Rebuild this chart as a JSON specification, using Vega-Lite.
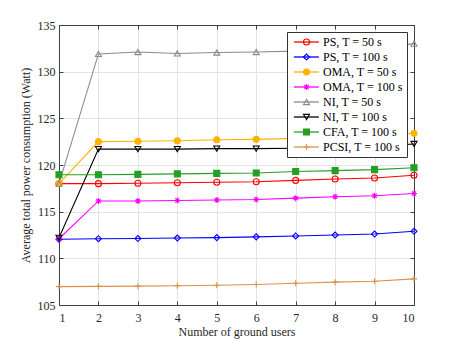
{
  "$schema": "https://vega.github.io/schema/vega-lite/v6.json",
  "width": 355,
  "height": 280,
  "autosize": {"type": "none"},
  "padding": {"left": 59, "top": 25, "right": 43, "bottom": 38},
  "background": "white",
  "config": {
    "font": "Liberation Serif",
    "view": {"stroke": null},
    "axis": {
      "labelFont": "Liberation Serif",
      "titleFont": "Liberation Serif",
      "labelFontSize": 12,
      "titleFontSize": 12,
      "titleFontWeight": "normal",
      "labelColor": "#262626",
      "titleColor": "#262626",
      "domainColor": "#404040",
      "tickColor": "#404040",
      "gridColor": "#e3e3e3",
      "gridOpacity": 1
    },
    "legend": {"labelFont": "Liberation Serif", "labelFontSize": 12, "labelColor": "#000000"}
  },
  "data": {
    "values": [
      {"x": 1, "series": "PS, T = 50 s", "value": 118.0},
      {"x": 2, "series": "PS, T = 50 s", "value": 118.0},
      {"x": 3, "series": "PS, T = 50 s", "value": 118.05},
      {"x": 4, "series": "PS, T = 50 s", "value": 118.1},
      {"x": 5, "series": "PS, T = 50 s", "value": 118.15},
      {"x": 6, "series": "PS, T = 50 s", "value": 118.2},
      {"x": 7, "series": "PS, T = 50 s", "value": 118.35},
      {"x": 8, "series": "PS, T = 50 s", "value": 118.5},
      {"x": 9, "series": "PS, T = 50 s", "value": 118.6},
      {"x": 10, "series": "PS, T = 50 s", "value": 118.9},
      {"x": 1, "series": "PS, T = 100 s", "value": 112.05},
      {"x": 2, "series": "PS, T = 100 s", "value": 112.1},
      {"x": 3, "series": "PS, T = 100 s", "value": 112.12},
      {"x": 4, "series": "PS, T = 100 s", "value": 112.18},
      {"x": 5, "series": "PS, T = 100 s", "value": 112.22},
      {"x": 6, "series": "PS, T = 100 s", "value": 112.3},
      {"x": 7, "series": "PS, T = 100 s", "value": 112.4},
      {"x": 8, "series": "PS, T = 100 s", "value": 112.5},
      {"x": 9, "series": "PS, T = 100 s", "value": 112.6},
      {"x": 10, "series": "PS, T = 100 s", "value": 112.9},
      {"x": 1, "series": "OMA, T = 50 s", "value": 118.0},
      {"x": 2, "series": "OMA, T = 50 s", "value": 122.5},
      {"x": 3, "series": "OMA, T = 50 s", "value": 122.55},
      {"x": 4, "series": "OMA, T = 50 s", "value": 122.6},
      {"x": 5, "series": "OMA, T = 50 s", "value": 122.7},
      {"x": 6, "series": "OMA, T = 50 s", "value": 122.75},
      {"x": 7, "series": "OMA, T = 50 s", "value": 122.85},
      {"x": 8, "series": "OMA, T = 50 s", "value": 123.0},
      {"x": 9, "series": "OMA, T = 50 s", "value": 123.2},
      {"x": 10, "series": "OMA, T = 50 s", "value": 123.4},
      {"x": 1, "series": "OMA, T = 100 s", "value": 112.1},
      {"x": 2, "series": "OMA, T = 100 s", "value": 116.15},
      {"x": 3, "series": "OMA, T = 100 s", "value": 116.15},
      {"x": 4, "series": "OMA, T = 100 s", "value": 116.2},
      {"x": 5, "series": "OMA, T = 100 s", "value": 116.25},
      {"x": 6, "series": "OMA, T = 100 s", "value": 116.3},
      {"x": 7, "series": "OMA, T = 100 s", "value": 116.45},
      {"x": 8, "series": "OMA, T = 100 s", "value": 116.6},
      {"x": 9, "series": "OMA, T = 100 s", "value": 116.7},
      {"x": 10, "series": "OMA, T = 100 s", "value": 116.95},
      {"x": 1, "series": "NI, T = 50 s", "value": 118.0},
      {"x": 2, "series": "NI, T = 50 s", "value": 131.9},
      {"x": 3, "series": "NI, T = 50 s", "value": 132.1},
      {"x": 4, "series": "NI, T = 50 s", "value": 131.95},
      {"x": 5, "series": "NI, T = 50 s", "value": 132.05},
      {"x": 6, "series": "NI, T = 50 s", "value": 132.1},
      {"x": 7, "series": "NI, T = 50 s", "value": 132.2},
      {"x": 8, "series": "NI, T = 50 s", "value": 132.3},
      {"x": 9, "series": "NI, T = 50 s", "value": 132.5},
      {"x": 10, "series": "NI, T = 50 s", "value": 133.0},
      {"x": 1, "series": "NI, T = 100 s", "value": 112.2},
      {"x": 2, "series": "NI, T = 100 s", "value": 121.7},
      {"x": 3, "series": "NI, T = 100 s", "value": 121.7},
      {"x": 4, "series": "NI, T = 100 s", "value": 121.7},
      {"x": 5, "series": "NI, T = 100 s", "value": 121.75},
      {"x": 6, "series": "NI, T = 100 s", "value": 121.75},
      {"x": 7, "series": "NI, T = 100 s", "value": 121.8},
      {"x": 8, "series": "NI, T = 100 s", "value": 121.9},
      {"x": 9, "series": "NI, T = 100 s", "value": 122.0},
      {"x": 10, "series": "NI, T = 100 s", "value": 122.25},
      {"x": 1, "series": "CFA, T = 100 s", "value": 118.95},
      {"x": 2, "series": "CFA, T = 100 s", "value": 118.95},
      {"x": 3, "series": "CFA, T = 100 s", "value": 119.0},
      {"x": 4, "series": "CFA, T = 100 s", "value": 119.05},
      {"x": 5, "series": "CFA, T = 100 s", "value": 119.1},
      {"x": 6, "series": "CFA, T = 100 s", "value": 119.15},
      {"x": 7, "series": "CFA, T = 100 s", "value": 119.3},
      {"x": 8, "series": "CFA, T = 100 s", "value": 119.4},
      {"x": 9, "series": "CFA, T = 100 s", "value": 119.5},
      {"x": 10, "series": "CFA, T = 100 s", "value": 119.7},
      {"x": 1, "series": "PCSI, T = 100 s", "value": 106.97},
      {"x": 2, "series": "PCSI, T = 100 s", "value": 107.0},
      {"x": 3, "series": "PCSI, T = 100 s", "value": 107.02},
      {"x": 4, "series": "PCSI, T = 100 s", "value": 107.07},
      {"x": 5, "series": "PCSI, T = 100 s", "value": 107.12},
      {"x": 6, "series": "PCSI, T = 100 s", "value": 107.2},
      {"x": 7, "series": "PCSI, T = 100 s", "value": 107.33},
      {"x": 8, "series": "PCSI, T = 100 s", "value": 107.45},
      {"x": 9, "series": "PCSI, T = 100 s", "value": 107.55},
      {"x": 10, "series": "PCSI, T = 100 s", "value": 107.8}
    ]
  },
  "layer": [
    {
      "mark": {"type": "line", "strokeWidth": 1.1},
      "encoding": {
        "x": {
          "field": "x", "type": "quantitative",
          "scale": {"domain": [1, 10], "nice": false},
          "axis": {"orient": "bottom", "values": [1,2,3,4,5,6,7,8,9,10], "grid": true, "tickSize": -4, "labelPadding": 11, "title": "Number of ground users", "titlePadding": 3}
        },
        "y": {
          "field": "value", "type": "quantitative",
          "scale": {"domain": [105, 135], "nice": false, "zero": false},
          "axis": {"orient": "left", "values": [105,110,115,120,125,130,135], "grid": true, "tickSize": -4, "labelPadding": 8, "title": "Average total power consumption (Watt)", "titlePadding": 5}
        },
        "color": {
          "field": "series", "type": "nominal", "sort": null,
          "scale": {
            "range": ["#ff0000", "#0000ff", "#ffb300", "#ff00ff", "#8c8c8c", "#000000", "#23a023", "#dc9148"]
          },
          "legend": {
            "orient": "none", "legendX": 228, "legendY": 7, "title": null,
            "symbolType": "M-1,0H7", "symbolSize": 39, "symbolStrokeWidth": 1.3,
            "fillColor": "white", "strokeColor": "#333333", "padding": 4, "rowPadding": 3, "labelOffset": 20
          }
        }
      }
    },
    {
      "mark": {"type": "point", "size": 36, "strokeWidth": 1.1, "opacity": 1},
      "encoding": {
        "x": {
          "field": "x", "type": "quantitative",
          "axis": {"orient": "top", "values": [1,2,3,4,5,6,7,8,9,10], "grid": false, "labels": false, "tickSize": -4, "title": null}
        },
        "y": {
          "field": "value", "type": "quantitative",
          "axis": {"orient": "right", "values": [105,110,115,120,125,130,135], "grid": false, "labels": false, "tickSize": -4, "title": null}
        },
        "shape": {
          "field": "series", "type": "nominal", "sort": null,
          "scale": {
            "domain": ["PS, T = 50 s", "PS, T = 100 s", "OMA, T = 50 s", "OMA, T = 100 s", "NI, T = 50 s", "NI, T = 100 s", "CFA, T = 100 s", "PCSI, T = 100 s"],
            "range": ["circle", "diamond", "circle", "M-1,0L1,0M0,-1L0,1M-0.7,-0.7L0.7,0.7M-0.7,0.7L0.7,-0.7", "triangle-up", "triangle-down", "square", "M-1,0L1,0M0,-1L0,1"]
          },
          "legend": {
            "orient": "none", "legendX": 237.5, "legendY": 7, "title": null,
            "labelExpr": "''", "padding": 4, "rowPadding": 3, "labelOffset": 3, "symbolSize": 36, "symbolStrokeWidth": 1.1
          }
        },
        "stroke": {
          "field": "series", "type": "nominal", "sort": null,
          "scale": {
            "domain": ["PS, T = 50 s", "PS, T = 100 s", "OMA, T = 50 s", "OMA, T = 100 s", "NI, T = 50 s", "NI, T = 100 s", "CFA, T = 100 s", "PCSI, T = 100 s"],
            "range": ["#ff0000", "#0000ff", "#ffb300", "#ff00ff", "#8c8c8c", "#000000", "#23a023", "#dc9148"]
          }
        },
        "fill": {
          "field": "series", "type": "nominal", "sort": null,
          "scale": {
            "domain": ["PS, T = 50 s", "PS, T = 100 s", "OMA, T = 50 s", "OMA, T = 100 s", "NI, T = 50 s", "NI, T = 100 s", "CFA, T = 100 s", "PCSI, T = 100 s"],
            "range": ["transparent", "transparent", "#ffb300", "transparent", "transparent", "transparent", "#23a023", "transparent"]
          }
        }
      }
    }
  ],
  "resolve": {"axis": {"x": "independent", "y": "independent"}}
}
